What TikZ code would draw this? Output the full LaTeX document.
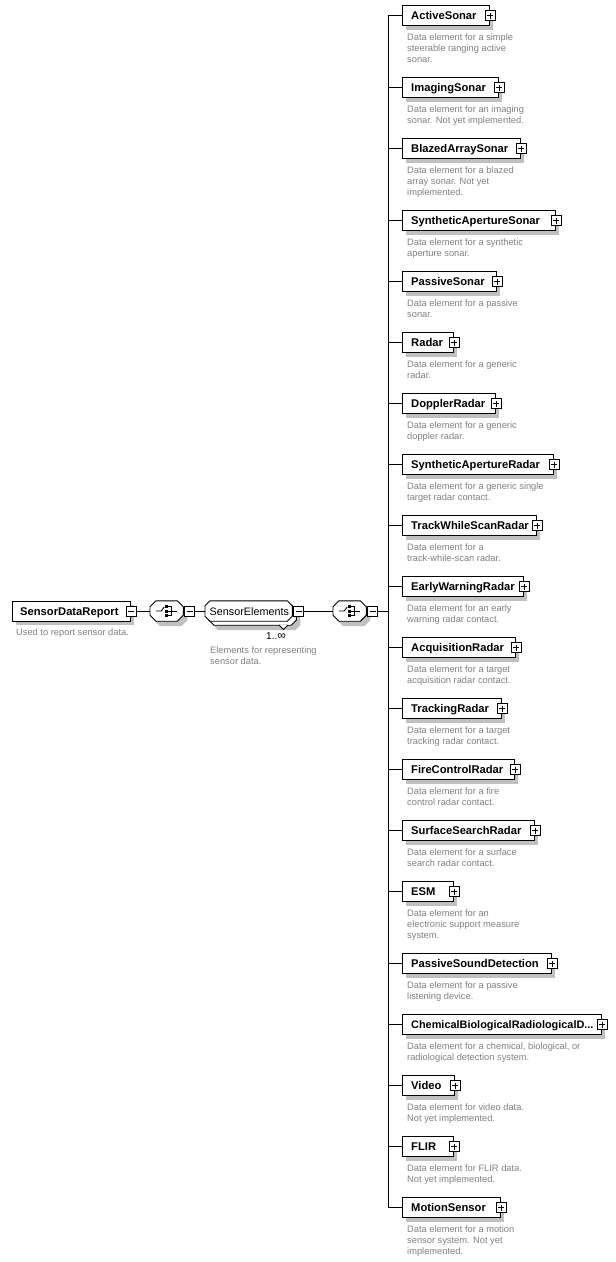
\documentclass[tikz,border=0pt]{standalone}
\usepackage{fontspec}
\setmainfont{Liberation Sans}
\usetikzlibrary{calc,shadows}
\definecolor{desccol}{RGB}{128,128,128}
\definecolor{shadowc}{RGB}{192,192,192}
\newcommand\cbrdname{ChemicalBiologicalRadiologicalD...}
% chamfered outline around a node: #1 node, #2 cut, #3 dx, #4 dy, #5 style
\newcommand\chamf[5]{%
  \path[#5] ($(#1.north west)+(#2+#3,#4)$) -- ($(#1.north east)+(-#2+#3,#4)$)
    -- ($(#1.north east)+(#3,#2+#4)$) -- ($(#1.south east)+(#3,-#2+#4)$)
    -- ($(#1.south east)+(-#2+#3,#4)$) -- ($(#1.south west)+(#2+#3,#4)$)
    -- ($(#1.south west)+(#3,-#2+#4)$) -- ($(#1.north west)+(#3,#2+#4)$) -- cycle;}
\tikzset{
  conn/.style={line width=0.9pt},
  elembox/.style={draw, line width=0.9pt, fill=white, minimum height=20pt, inner sep=0pt,
    drop shadow={shadow xshift=4pt, shadow yshift=-4pt, fill=shadowc, opacity=1}},
  nametext/.style={inner sep=0pt, anchor=base west},
  desctext/.style={inner sep=0pt, text=desccol, font=\fontsize{9.3}{11}\selectfont, anchor=base west},
  shapebox/.style={inner sep=0pt, minimum height=20pt},
  minusbox/.style={draw, fill=white, line width=0.8pt, minimum size=10pt, inner sep=0pt,
    path picture={\draw[line width=0.8pt] ([xshift=2pt]path picture bounding box.west) -- ([xshift=-2pt]path picture bounding box.east);}},
  plusbox/.style={draw, fill=white, line width=0.8pt, minimum size=10pt, inner sep=0pt,
    path picture={\draw[line width=0.8pt] ([xshift=2pt]path picture bounding box.west) -- ([xshift=-2pt]path picture bounding box.east);
      \draw[line width=0.8pt] ([yshift=-2pt]path picture bounding box.north) -- ([yshift=2pt]path picture bounding box.south);}},
}
\newcommand\seqicon[1]{%
  \begin{scope}[shift={(#1.center)}]
    \draw[line width=0.9pt] (-10.5,0) -- (-5.5,0) -- (-2.5,-4);
    \fill (-1.5,-6) rectangle (1.5,-3);
    \fill (-1.5,-1.5) rectangle (1.5,1.5);
    \fill (-1.5,3) rectangle (1.5,6);
    \draw[line width=0.9pt] (1.5,-4.5) -- (5,-4.5) -- (5,4.5) -- (1.5,4.5);
    \draw[line width=0.9pt] (1.5,0) -- (10,0);
  \end{scope}}
\begin{document}
\begin{tikzpicture}[x=1pt,y=-1pt]
\useasboundingbox (0,0) rectangle (616,1262);

% ---- main row ----
\node[elembox, minimum width=118pt, anchor=west] (sdr) at (12,611) {};
\node[nametext, font=\fontsize{11.2}{13}\selectfont\bfseries] (sdrt) at (20,615) {SensorDataReport};
\node[minusbox] (sdrm) at (sdr.east) {};
\node[desctext] (sdrd) at (16,635.5) {Used to report sensor data.};

\node[shapebox, minimum width=33pt, anchor=west] (seq1) at (150,611) {};
\chamf{seq1}{6}{4}{5}{fill=shadowc}
\chamf{seq1}{6}{0}{0}{draw, fill=white, line width=0.9pt}
\seqicon{seq1}
\node[minusbox, anchor=west] (seq1m) at ([xshift=1pt]seq1.east) {};

\node[shapebox, minimum width=87pt, anchor=west] (se) at (205,611) {};
\chamf{se}{5}{8}{9}{fill=shadowc}
\chamf{se}{5}{4}{4}{draw, fill=white, line width=0.9pt}
\chamf{se}{5}{0}{0}{draw, fill=white, line width=0.9pt}
\draw[line width=0.8pt, fill=white] (279,625) -- (283.5,629.5) -- (288,625);
\node[nametext, font=\fontsize{10.8}{13}\selectfont] (set) at (209.5,615) {SensorElements};
\node[minusbox, anchor=west] (sem) at ([xshift=1pt]se.east) {};
\node[nametext, font=\fontsize{10}{11}\selectfont] (occ) at (266,639) {1..{\fontsize{12}{11}\selectfont ∞}};
\node[desctext] (sed1) at (210,653.5) {Elements for representing};
\node[desctext] (sed2) at (210,664.5) {sensor data.};

\node[shapebox, minimum width=33pt, anchor=west] (seq2) at (333,611) {};
\chamf{seq2}{6}{4}{5}{fill=shadowc}
\chamf{seq2}{6}{0}{0}{draw, fill=white, line width=0.9pt}
\seqicon{seq2}
\node[minusbox, anchor=west] (seq2m) at ([xshift=1pt]seq2.east) {};

\coordinate (bm) at (388,611);
\draw[conn] (sdrm.east) -- (seq1.west);
\draw[conn] (seq1m.east) -- (se.west);
\draw[conn] (sem.east) -- (seq2.west);
\draw[conn] (seq2m.east) -- (bm);

% ---- child elements ----
\foreach \i/\nm/\r/\y/\fs/\nl/\la/\lb/\lc in {
 1/ActiveSonar/489/15.5/11.2/3/Data element for a simple/steerable ranging active/sonar.,
 2/ImagingSonar/498/87.5/11.2/2/Data element for an imaging/sonar. Not yet implemented./x,
 3/BlazedArraySonar/520/148.5/11.2/3/Data element for a blazed/array sonar. Not yet/implemented.,
 4/SyntheticApertureSonar/555/220.5/11.2/2/Data element for a synthetic/aperture sonar./x,
 5/PassiveSonar/496/281.5/11.2/2/Data element for a passive/sonar./x,
 6/Radar/453/342.5/11.2/2/Data element for a generic/radar./x,
 7/DopplerRadar/495/403.5/11.2/2/Data element for a generic/doppler radar./x,
 8/SyntheticApertureRadar/553/464.5/11.2/2/Data element for a generic single/target radar contact./x,
 9/TrackWhileScanRadar/536/525.5/11.2/2/Data element for a/track-while-scan radar./x,
 10/EarlyWarningRadar/523/586.5/11.2/2/Data element for an early/warning radar contact./x,
 11/AcquisitionRadar/515/647.5/11.2/2/Data element for a target/acquisition radar contact./x,
 12/TrackingRadar/501/708.5/11.2/2/Data element for a target/tracking radar contact./x,
 13/FireControlRadar/514/769.5/11.2/2/Data element for a fire/control radar contact./x,
 14/SurfaceSearchRadar/534/830.5/11.2/2/Data element for a surface/search radar contact./x,
 15/ESM/453/891.5/11.2/3/Data element for an/electronic support measure/system.,
 16/PassiveSoundDetection/551/963.5/11.2/2/Data element for a passive/listening device./x,
 17/\cbrdname/601/1024.5/10.9/2/{Data element for a chemical, biological, or}/radiological detection system./x,
 18/Video/454/1085.5/11.2/2/Data element for video data./Not yet implemented./x,
 19/FLIR/453/1146.5/11.2/2/Data element for FLIR data./Not yet implemented./x,
 20/MotionSensor/500/1207.5/11.2/3/Data element for a motion/sensor system. Not yet/implemented.}
{
  \coordinate (b\i) at (388,\y);
  \node[elembox, minimum width={(\r-402)*1pt}, anchor=west] (e\i) at (402,\y) {};
  \node[nametext, font=\fontsize{\fs}{13}\selectfont\bfseries] (t\i) at (411,\y+4) {\nm};
  \node[plusbox] (p\i) at (e\i.east) {};
  \draw[conn] (b\i) -- (e\i.west);
  \node[desctext] (da\i) at (407,\y+24.5) {\la};
  \node[desctext] (db\i) at (407,\y+35.5) {\lb};
  \ifnum\nl>2 \node[desctext] (dc\i) at (407,\y+46.5) {\lc}; \fi
}
\draw[conn] (b1) -- (b20);
\end{tikzpicture}
\end{document}
